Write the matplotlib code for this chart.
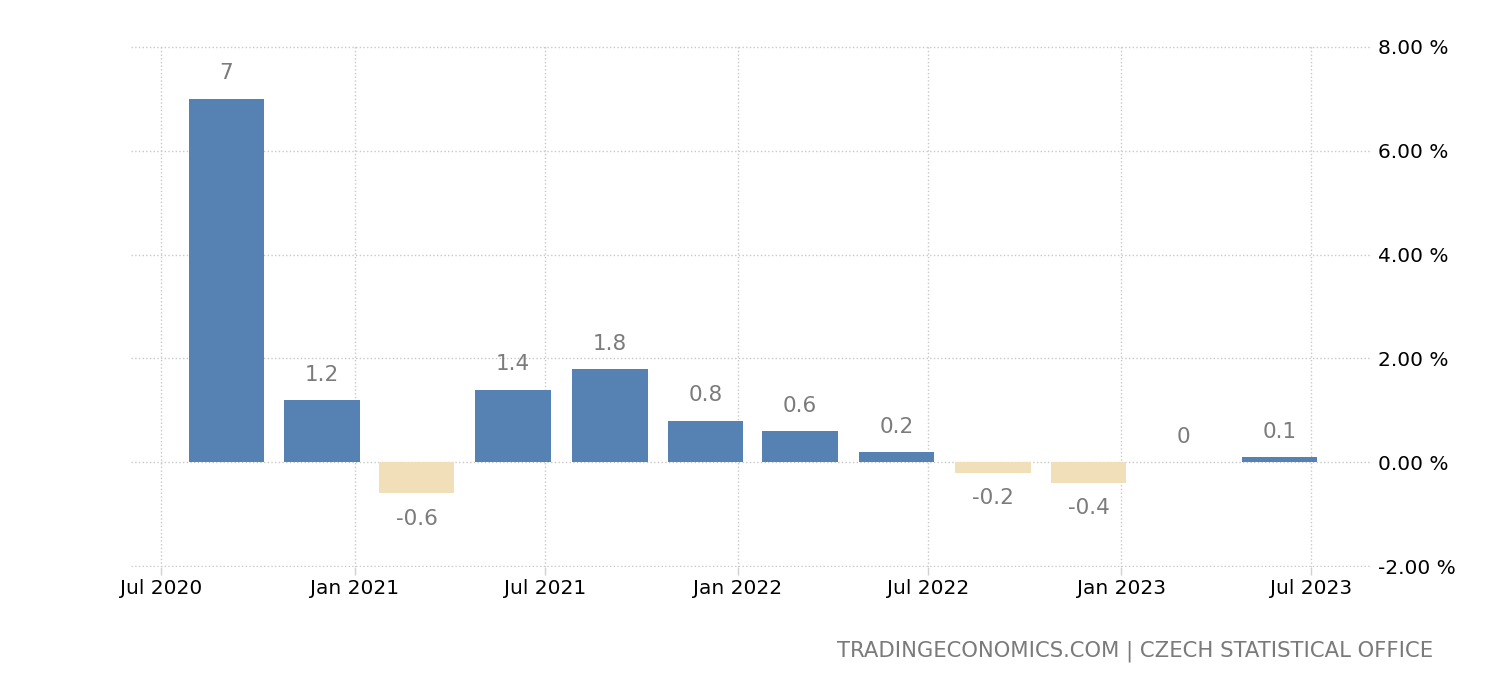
import pandas as pd
import numpy as np
import matplotlib.pyplot as plt
import matplotlib.dates as mdates
from matplotlib.ticker import FuncFormatter

# quarterly GDP growth (QoQ, %)
quarters = ['2020-09-01', '2020-12-01', '2021-03-01', '2021-06-01',
            '2021-09-01', '2021-12-01', '2022-03-01', '2022-06-01',
            '2022-09-01', '2022-12-01', '2023-03-01', '2023-06-01']
values = [7, 1.2, -0.6, 1.4, 1.8, 0.8, 0.6, 0.2, -0.2, -0.4, 0, 0.1]
labels = ['7', '1.2', '-0.6', '1.4', '1.8', '0.8', '0.6', '0.2', '-0.2', '-0.4', '0', '0.1']
xticks = ['2020-07-01', '2021-01-01', '2021-07-01', '2022-01-01',
          '2022-07-01', '2023-01-01', '2023-07-01']
yticks = [-2, 0, 2, 4, 6, 8]
source = 'TRADINGECONOMICS.COM | CZECH STATISTICAL OFFICE'

blue = '#5681b3'
beige = '#f0dfb9'
gray_lbl = '#7b7b7b'

dates = pd.to_datetime(quarters)
cols = [blue if v >= 0 else beige for v in values]

fig = plt.figure(figsize=(14.96, 6.86), dpi=100)
ax = fig.add_axes([0.0876, 0.1735, 0.9171 - 0.0876, 0.9329 - 0.1735])

bars = ax.bar(dates, values, width=72, color=cols, zorder=3)

for d, v, t in zip(dates, values, labels):
    if v < 0:
        ax.annotate(t, (mdates.date2num(d), v), xytext=(0, -11), textcoords='offset points',
                    ha='center', va='top', fontsize=15.5, color=gray_lbl)
    else:
        ax.annotate(t, (mdates.date2num(d), v), xytext=(0, 11), textcoords='offset points',
                    ha='center', va='bottom', fontsize=15.5, color=gray_lbl)

ax.set_ylim(-2.015, 8.015)
ax.set_yticks(yticks)
ax.yaxis.tick_right()
ax.yaxis.set_major_formatter(FuncFormatter(lambda v, p: '%.2f %%' % v))
ax.tick_params(axis='y', length=0, pad=4, labelsize=14.5, labelcolor='black')

ax.set_xlim(pd.Timestamp('2020-06-02'), pd.Timestamp('2023-08-28'))
ax.set_xticks(pd.to_datetime(xticks))
ax.xaxis.set_major_formatter(mdates.DateFormatter('%b %Y'))
ax.tick_params(axis='x', length=6, width=1, color='#d0d0d0', pad=3, labelsize=14.5)

ax.grid(True, linestyle=':', color='#c8c8c8', linewidth=1, zorder=0)
for s in ax.spines.values():
    s.set_visible(False)

fig.text(1433 / 1496, 1 - 651 / 686, source, ha='right', va='center',
         fontsize=15.2, color='#7a7a7a')

fig.savefig('out.png', dpi=100)
